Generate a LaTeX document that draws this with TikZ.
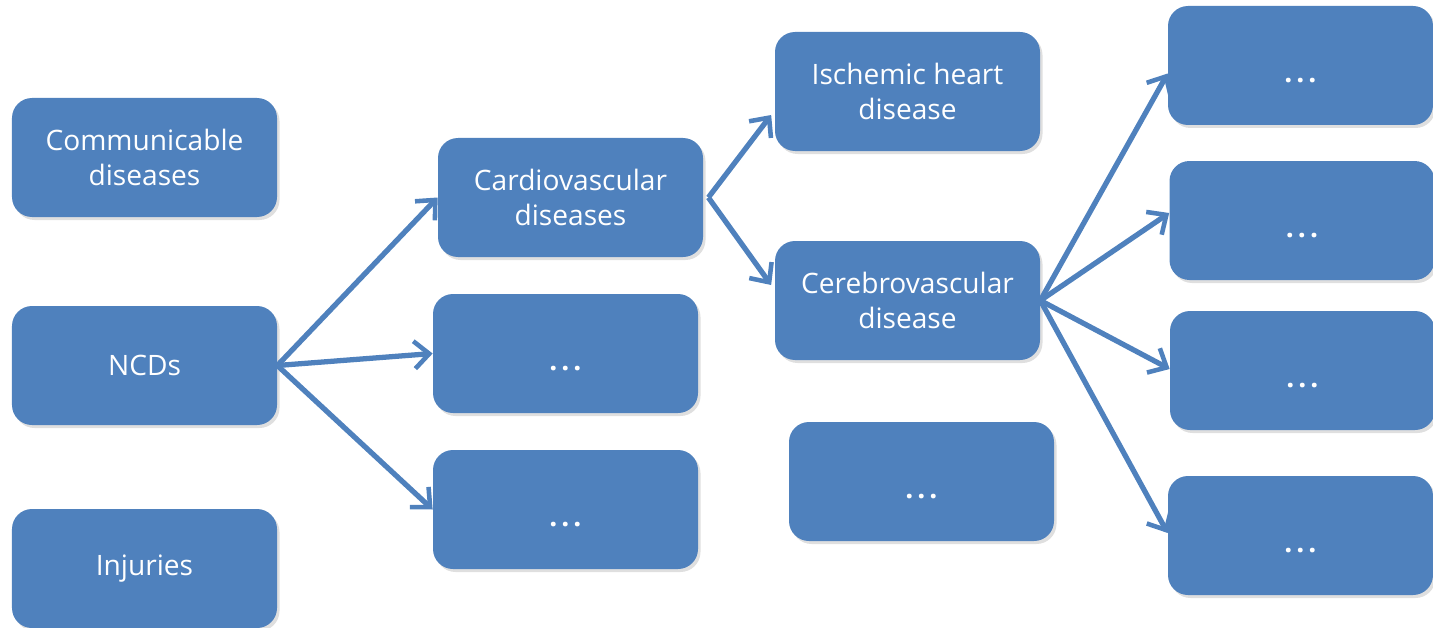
\documentclass[tikz,border=0pt]{standalone}
\usepackage{fontspec}
\setmainfont{Open Sans}
\usepackage{tikz}
\usetikzlibrary{positioning,shapes,arrows.meta,shadows}

\definecolor{boxblue}{HTML}{4F81BD}
\newcommand{\more}{\strut\raisebox{-0.2cm}[0pt][0pt]{\textbf{.\kern0.08cm.\kern0.08cm.}}}

\begin{document}
\begin{tikzpicture}[
    box/.style={fill=boxblue, text=white, minimum width=5.3cm, minimum height=2.38cm,
        align=center, rounded corners=0.4cm, font=\fontsize{16}{20}\selectfont,
        drop shadow={opacity=0.25, shadow xshift=0.05cm, shadow yshift=-0.06cm}},
    arrow/.style={-{Straight Barb[length=0.3cm, width=0.55cm, line width=2.6pt]},
        draw=boxblue, line width=3pt}]

    \useasboundingbox (0,0) rectangle (28.66,-12.56);

    % Top level
    \node[box] (comm) at (2.89,-3.15) {Communicable\\diseases};
    \node[box] (ncd) at (2.89,-7.31) {NCDs};
    \node[box] (inj) at (2.89,-11.37) {Injuries};

    % NCD groups
    \node[box] (cvd) at (11.41,-3.95) {Cardiovascular\\diseases};
    \node[box] (ncdmore) at (11.31,-7.07) {\more};
    \node[box] (ncdmoretwo) at (11.31,-10.19) {\more};

    % Cardiovascular causes
    \node[box] (ihd) at (18.15,-1.83) {Ischemic heart\\disease};
    \node[box] (cebvd) at (18.15,-6.01) {Cerebrovascular\\disease};
    \node[box] (cvdmore) at (18.43,-9.63) {\more};

    % Cerebrovascular causes
    \node[box] (subone) at (26.01,-1.31) {\more};
    \node[box] (subtwo) at (26.04,-4.41) {\more};
    \node[box] (subthree) at (26.05,-7.41) {\more};
    \node[box] (subfour) at (26.01,-10.71) {\more};

    % Connect components with arrows
    \draw[arrow] (ncd.east) -- (cvd.west);
    \draw[arrow] (ncd.east) -- (ncdmore.west);
    \draw[arrow] (ncd.east) -- (ncdmoretwo.west);
    \draw[arrow] ([xshift=0.1cm]cvd.east) -- ([xshift=-0.07cm,yshift=-0.47cm]ihd.west);
    \draw[arrow] ([xshift=0.1cm]cvd.east) -- ([xshift=-0.07cm,yshift=0.31cm]cebvd.west);
    \draw[arrow] (cebvd.east) -- ([yshift=-0.16cm]subone.west);
    \draw[arrow] (cebvd.east) -- ([yshift=0.15cm]subtwo.west);
    \draw[arrow] (cebvd.east) -- ([yshift=0.03cm]subthree.west);
    \draw[arrow] (cebvd.east) -- ([yshift=0.05cm]subfour.west);
\end{tikzpicture}
\end{document}
